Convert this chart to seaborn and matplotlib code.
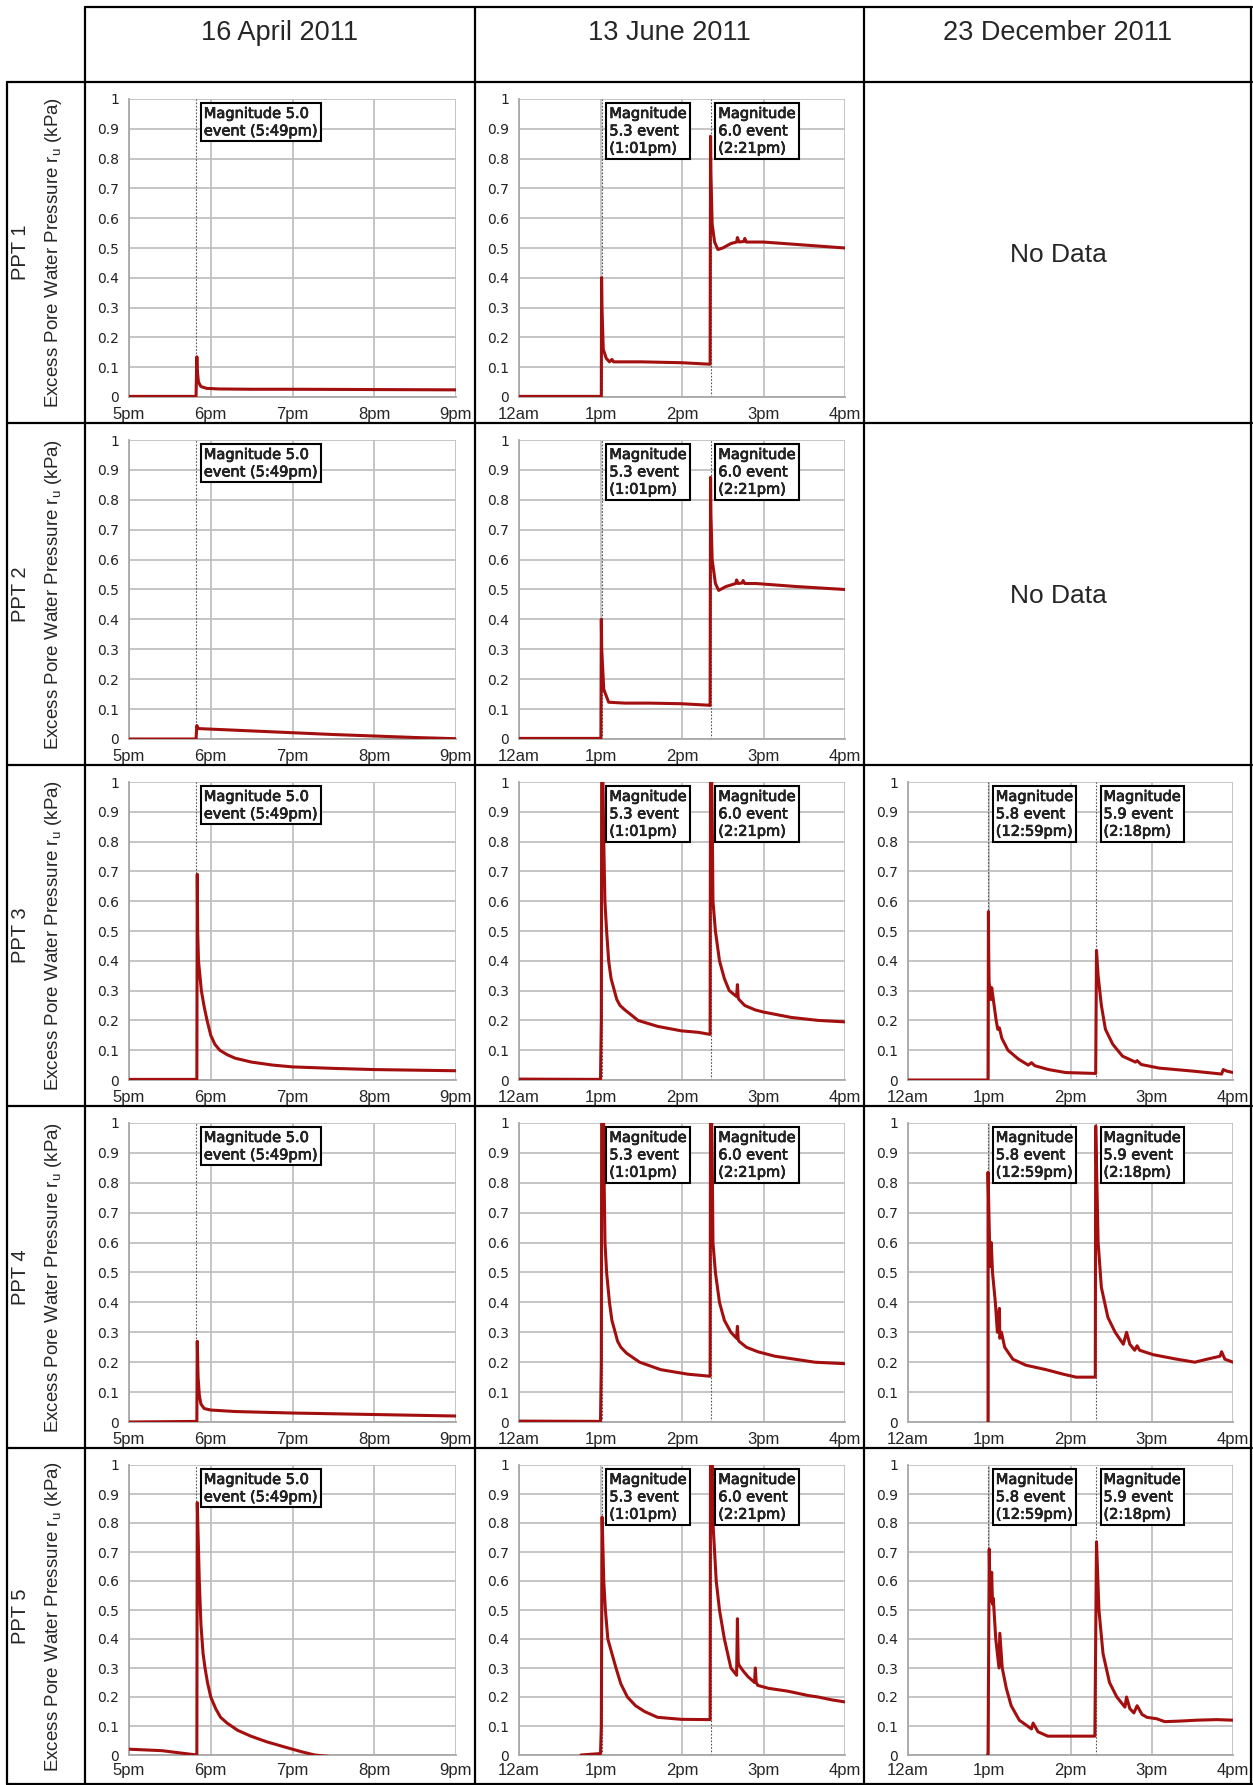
import numpy as np
import pandas as pd
import seaborn as sns
import matplotlib.pyplot as plt
import matplotlib.patheffects as pe
from matplotlib.lines import Line2D

# ---- data (hours; June/Dec are hours after noon) ----
apr_ticks = [17, 18, 19, 20, 21]
apr_labels = ['5pm', '6pm', '7pm', '8pm', '9pm']
pm_ticks = [0, 1, 2, 3, 4]
pm_labels = ['12am', '1pm', '2pm', '3pm', '4pm']
y_ticks = [0, 0.1, 0.2, 0.3, 0.4, 0.5, 0.6, 0.7, 0.8, 0.9, 1]

dates = ['16 April 2011', '13 June 2011', '23 December 2011']
sensors = ['PPT 1', 'PPT 2', 'PPT 3', 'PPT 4', 'PPT 5']

apr_events = [17.82]
apr_notes = ['Magnitude 5.0\nevent (5:49pm)']
jun_events = [1.013, 2.35]
jun_notes = ['Magnitude\n5.3 event\n(1:01pm)', 'Magnitude\n6.0 event\n(2:21pm)']
dec_events = [0.985, 2.31]
dec_notes = ['Magnitude\n5.8 event\n(12:59pm)', 'Magnitude\n5.9 event\n(2:18pm)']

ppt1_apr_t = [17.0, 17.82, 17.83, 17.835, 17.85, 17.88, 17.95, 18.1, 18.5, 19.0, 20.0, 21.0]
ppt1_apr_v = [0.002, 0.002, 0.135, 0.09, 0.05, 0.035, 0.029, 0.027, 0.026, 0.026, 0.025, 0.024]

ppt1_jun_t = [0.0, 1.01, 1.013, 1.018, 1.034, 1.07, 1.11, 1.14, 1.16, 1.5, 2.0, 2.345, 2.35, 2.355,
              2.37, 2.4, 2.44, 2.5, 2.6, 2.67, 2.68, 2.7, 2.76, 2.77, 2.79, 3.0, 3.5, 4.0]
ppt1_jun_v = [0.002, 0.002, 0.4, 0.3, 0.16, 0.13, 0.118, 0.126, 0.118, 0.118, 0.115, 0.11, 0.875, 0.75,
              0.58, 0.52, 0.495, 0.5, 0.515, 0.52, 0.535, 0.52, 0.522, 0.532, 0.52, 0.52, 0.51, 0.5]

ppt2_apr_t = [17.0, 17.82, 17.83, 17.84, 18.0, 18.5, 19.0, 19.5, 20.0, 20.5, 21.0]
ppt2_apr_v = [0.0, 0.0, 0.045, 0.035, 0.033, 0.027, 0.021, 0.015, 0.01, 0.005, 0.001]

ppt2_jun_t = [0.0, 1.005, 1.01, 1.015, 1.04, 1.1, 1.3, 1.6, 1.99, 2.33, 2.345, 2.35, 2.355,
              2.37, 2.41, 2.45, 2.54, 2.66, 2.67, 2.69, 2.74, 2.75, 2.77, 2.91, 3.4, 4.0]
ppt2_jun_v = [0.002, 0.002, 0.4, 0.3, 0.166, 0.123, 0.12, 0.12, 0.118, 0.113, 0.112, 0.875, 0.75,
              0.6, 0.52, 0.497, 0.51, 0.52, 0.532, 0.52, 0.522, 0.53, 0.52, 0.52, 0.51, 0.5]

ppt3_apr_t = [17.0, 17.83, 17.835, 17.84, 17.85, 17.885, 17.92, 17.955, 18.0, 18.05, 18.11, 18.2,
              18.3, 18.5, 18.76, 19.0, 19.5, 20.0, 20.5, 21.0]
ppt3_apr_v = [0.002, 0.002, 0.69, 0.5, 0.4, 0.3, 0.245, 0.2, 0.15, 0.12, 0.1, 0.085,
              0.073, 0.06, 0.05, 0.044, 0.039, 0.035, 0.033, 0.031]

ppt3_jun_t = [0.0, 1.0, 1.01, 1.015, 1.025, 1.04, 1.054, 1.075, 1.1, 1.13, 1.17, 1.2, 1.24, 1.3,
              1.37, 1.46, 1.7, 1.99, 2.2, 2.345, 2.35, 2.36, 2.37, 2.38, 2.41, 2.46, 2.52, 2.58,
              2.67, 2.68, 2.69, 2.7, 2.77, 2.9, 3.0, 3.34, 3.67, 4.0]
ppt3_jun_v = [0.003, 0.002, 0.2, 1.1, 1.1, 0.8, 0.6, 0.5, 0.4, 0.34, 0.3, 0.27, 0.25, 0.235,
              0.22, 0.2, 0.18, 0.165, 0.16, 0.153, 1.1, 1.1, 0.9, 0.6, 0.5, 0.4, 0.34, 0.3,
              0.28, 0.32, 0.275, 0.27, 0.25, 0.235, 0.228, 0.21, 0.2, 0.195]

ppt3_dec_t = [0.0, 0.985, 0.99, 0.993, 0.998, 1.02, 1.03, 1.05, 1.085, 1.105, 1.125, 1.155, 1.23,
              1.36, 1.48, 1.52, 1.56, 1.73, 1.94, 2.31, 2.32, 2.34, 2.38, 2.43, 2.52, 2.64, 2.8,
              2.82, 2.87, 3.09, 3.5, 3.86, 3.88, 3.92, 4.0]
ppt3_dec_v = [0.0, 0.0, 0.565, 0.43, 0.33, 0.27, 0.31, 0.27, 0.2, 0.17, 0.175, 0.14, 0.1,
              0.07, 0.05, 0.058, 0.048, 0.035, 0.025, 0.022, 0.435, 0.35, 0.25, 0.17, 0.12, 0.08, 0.06,
              0.065, 0.052, 0.04, 0.03, 0.02, 0.035, 0.03, 0.025]

ppt4_apr_t = [17.0, 17.83, 17.835, 17.845, 17.86, 17.88, 17.92, 18.0, 18.3, 19.0, 20.0, 21.0]
ppt4_apr_v = [0.0, 0.002, 0.27, 0.15, 0.09, 0.06, 0.045, 0.04, 0.035, 0.03, 0.025, 0.02]

ppt4_jun_t = [0.0, 1.0, 1.01, 1.015, 1.035, 1.045, 1.055, 1.075, 1.11, 1.14, 1.18, 1.21, 1.25, 1.32,
              1.48, 1.74, 2.07, 2.345, 2.35, 2.36, 2.37, 2.38, 2.41, 2.46, 2.52, 2.6, 2.67, 2.68,
              2.69, 2.7, 2.79, 2.93, 3.14, 3.63, 4.0]
ppt4_jun_v = [0.003, 0.002, 0.2, 1.1, 1.1, 0.8, 0.6, 0.5, 0.4, 0.34, 0.3, 0.27, 0.25, 0.23,
              0.2, 0.175, 0.16, 0.153, 1.1, 1.1, 0.9, 0.6, 0.5, 0.4, 0.34, 0.3, 0.28, 0.32,
              0.275, 0.27, 0.25, 0.235, 0.22, 0.2, 0.195]

ppt4_dec_t = [0.985, 0.985, 1.01, 1.025, 1.04, 1.075, 1.1, 1.125, 1.13, 1.15, 1.19, 1.29, 1.45, 1.7,
              1.91, 2.07, 2.305, 2.31, 2.34, 2.38, 2.46, 2.55, 2.65, 2.69, 2.73, 2.79, 2.82, 2.85,
              3.02, 3.31, 3.53, 3.68, 3.84, 3.86, 3.9, 4.0]
ppt4_dec_v = [0.0, 0.835, 0.52, 0.6, 0.5, 0.4, 0.3, 0.38, 0.28, 0.3, 0.25, 0.21, 0.19, 0.175,
              0.16, 0.15, 0.15, 0.99, 0.6, 0.45, 0.35, 0.3, 0.26, 0.3, 0.26, 0.24, 0.255, 0.24,
              0.225, 0.21, 0.2, 0.21, 0.22, 0.235, 0.21, 0.2]

ppt5_apr_t = [17.0, 17.4, 17.83, 17.835, 17.86, 17.88, 17.906, 17.93, 17.96, 18.0, 18.06, 18.12,
              18.2, 18.33, 18.49, 18.69, 18.9, 19.1, 19.27, 19.45]
ppt5_apr_v = [0.02, 0.015, 0.0, 0.87, 0.6, 0.45, 0.35, 0.3, 0.25, 0.2, 0.16, 0.13,
              0.11, 0.085, 0.065, 0.045, 0.028, 0.012, 0.0, -0.005]

ppt5_jun_t = [0.76, 1.0, 1.01, 1.02, 1.04, 1.06, 1.09, 1.14, 1.19, 1.25, 1.33, 1.43, 1.54, 1.7,
              1.99, 2.345, 2.35, 2.37, 2.38, 2.42, 2.46, 2.52, 2.6, 2.67, 2.68, 2.69, 2.7, 2.75,
              2.81, 2.89, 2.9, 2.91, 2.93, 3.06, 3.3, 3.55, 3.67, 3.84, 4.0]
ppt5_jun_v = [0.0, 0.005, 0.1, 0.82, 0.6, 0.5, 0.4, 0.35, 0.3, 0.245, 0.2, 0.17, 0.15, 0.13,
              0.123, 0.122, 1.1, 1.1, 0.8, 0.6, 0.5, 0.4, 0.3, 0.275, 0.47, 0.32, 0.31, 0.29,
              0.27, 0.25, 0.3, 0.25, 0.24, 0.23, 0.22, 0.205, 0.2, 0.19, 0.183]

ppt5_dec_t = [0.98, 0.985, 1.0, 1.01, 1.03, 1.04, 1.05, 1.08, 1.12, 1.13, 1.16, 1.21, 1.27, 1.37,
              1.52, 1.54, 1.6, 1.72, 2.3, 2.32, 2.35, 2.4, 2.48, 2.57, 2.67, 2.69, 2.73, 2.78,
              2.82, 2.88, 2.94, 3.06, 3.16, 3.35, 3.55, 3.8, 4.0]
ppt5_dec_v = [0.0, 0.0, 0.71, 0.53, 0.63, 0.52, 0.54, 0.4, 0.3, 0.42, 0.3, 0.23, 0.17, 0.12,
              0.09, 0.11, 0.08, 0.065, 0.065, 0.735, 0.5, 0.35, 0.25, 0.2, 0.165, 0.2, 0.16, 0.145,
              0.17, 0.14, 0.13, 0.125, 0.115, 0.117, 0.12, 0.122, 0.12]

# (row, col, times, values); empty Dec cells for PPT 1/2 say "No Data"
panels = [
    (0, 0, ppt1_apr_t, ppt1_apr_v), (0, 1, ppt1_jun_t, ppt1_jun_v),
    (1, 0, ppt2_apr_t, ppt2_apr_v), (1, 1, ppt2_jun_t, ppt2_jun_v),
    (2, 0, ppt3_apr_t, ppt3_apr_v), (2, 1, ppt3_jun_t, ppt3_jun_v), (2, 2, ppt3_dec_t, ppt3_dec_v),
    (3, 0, ppt4_apr_t, ppt4_apr_v), (3, 1, ppt4_jun_t, ppt4_jun_v), (3, 2, ppt4_dec_t, ppt4_dec_v),
    (4, 0, ppt5_apr_t, ppt5_apr_v), (4, 1, ppt5_jun_t, ppt5_jun_v), (4, 2, ppt5_dec_t, ppt5_dec_v),
]
no_data = [(0, 2), (1, 2)]

# ---- layout (pixels in a 1253x1785 canvas) ----
W, H = 1253, 1785
col_x = [85, 475, 864, 1252]
row_y = [82, 423, 765, 1106, 1448, 1784]

sns.set_style("white")
plt.rcParams['font.family'] = ['Liberation Sans', 'DejaVu Sans']

fig = plt.figure(figsize=(W / 100, H / 100), dpi=100)


def fx(px):
    return px / W


def fy(py):
    return 1 - py / H


def hline(y, x0, x1):
    fig.add_artist(Line2D([fx(x0), fx(x1)], [fy(y), fy(y)], color='black', lw=1.6,
                          transform=fig.transFigure))


def vline(x, y0, y1):
    fig.add_artist(Line2D([fx(x), fx(x)], [fy(y0), fy(y1)], color='black', lw=1.6,
                          transform=fig.transFigure))


# table borders
hline(7, 85, 1252)
hline(82, 7, 1252)
for y in row_y[1:]:
    hline(y, 7, 1252)
vline(7, 82, 1784)
for x in col_x[:3]:
    vline(x, 7, 1784)
vline(1251, 7, 1784)

# column headers
for c, d in enumerate(dates):
    fig.text(fx((col_x[c] + col_x[c + 1]) / 2), fy(33), d, ha='center', va='center', fontsize=19.5)

# row labels
for r, s in enumerate(sensors):
    yc = (row_y[r] + row_y[r + 1]) / 2
    fig.text(fx(21), fy(yc), s, rotation=90, ha='center', va='center', fontsize=14.5)
    fig.text(fx(54), fy(yc), r'Excess Pore Water Pressure r$_\mathregular{u}$ (kPa)',
             rotation=90, ha='center', va='center', fontsize=13.5)

for r, c in no_data:
    fig.text(fx((col_x[c] + col_x[c + 1]) / 2), fy((row_y[r] + row_y[r + 1]) / 2 + 2), 'No Data',
             ha='center', va='center', fontsize=19)

red = '#a30f0f'
bold_fx = [pe.withStroke(linewidth=0.5, foreground='black')]
for r, c, t, v in panels:
    left = col_x[c] + 44
    right = col_x[c + 1] - 19
    top = row_y[r] + 17
    bottom = row_y[r + 1] - (29 if r == 4 else 26)
    ax = fig.add_axes([fx(left), fy(bottom), fx(right - left), (bottom - top) / H])

    df = pd.DataFrame({'t': t, 'v': v})
    sns.lineplot(data=df, x='t', y='v', ax=ax, color=red, lw=2.2, estimator=None, sort=False,
                 legend=False, zorder=3)

    if c == 0:
        ax.set_xlim(17, 21)
        ax.set_xticks(apr_ticks)
        ax.set_xticklabels(apr_labels)
        events, notes = apr_events, apr_notes
    else:
        ax.set_xlim(0, 4)
        ax.set_xticks(pm_ticks)
        ax.set_xticklabels(pm_labels)
        events, notes = (jun_events, jun_notes) if c == 1 else (dec_events, dec_notes)
    ax.set_ylim(0, 1)
    ax.set_yticks(y_ticks)
    ax.set_yticklabels([f'{y:g}' for y in y_ticks], family='DejaVu Sans', fontsize=10, color='#222222')
    for lab in ax.get_xticklabels():
        lab.set_fontsize(12)
    ax.set_xlabel('')
    ax.set_ylabel('')

    ax.grid(True, color='#c0c0c0', lw=1.3)
    ax.set_axisbelow(True)
    for sp in ['top', 'right']:
        ax.spines[sp].set_visible(False)
    for sp in ['left', 'bottom']:
        ax.spines[sp].set_color('#a8a8a8')
        ax.spines[sp].set_linewidth(1.3)
    ax.tick_params(axis='y', length=4, width=1, color='#a8a8a8', pad=3)
    ax.tick_params(axis='x', length=3, width=1, color='#a8a8a8', pad=3 if r == 4 else 4.5)

    for ev, note in zip(events, notes):
        ax.axvline(ev, color='#555555', lw=0.8, ls=(0, (1.5, 1.5)), zorder=2)
        ax.annotate(note, xy=(ev, 1), xycoords=('data', 'axes fraction'), xytext=(5.6, -5.0),
                    textcoords='offset points', ha='left', va='top', fontsize=10.5,
                    family='DejaVu Sans', linespacing=1.2, zorder=5, path_effects=bold_fx,
                    bbox=dict(boxstyle='square,pad=0.2', fc='white', ec='black', lw=1.5))

fig.savefig('out.png', dpi=100)
